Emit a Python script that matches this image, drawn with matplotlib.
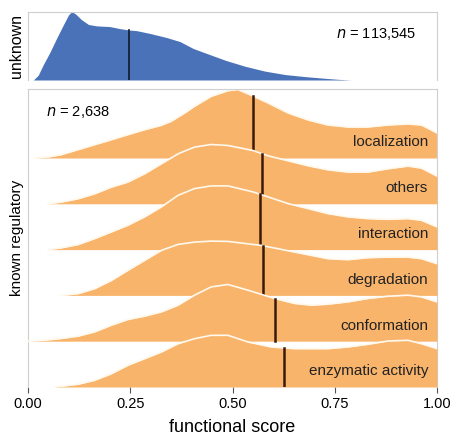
import matplotlib.pyplot as plt
import numpy as np

plt.rcParams['font.family'] = ['Liberation Sans', 'DejaVu Sans']

# unknown proteins: density (relative height)
unk_x = [0.0, 0.013, 0.025, 0.037, 0.054, 0.070, 0.086, 0.099, 0.107, 0.117, 0.131, 0.148,
         0.168, 0.2, 0.225, 0.247, 0.266, 0.298, 0.339, 0.372, 0.404, 0.445, 0.484,
         0.531, 0.579, 0.628, 0.677, 0.726, 0.758, 0.79, 1.0]
unk_y = [0.0, 0.0, 0.07, 0.22, 0.41, 0.61, 0.80, 0.95, 1.0, 0.96, 0.88, 0.81,
         0.79, 0.78, 0.75, 0.73, 0.72, 0.68, 0.62, 0.56, 0.46, 0.37, 0.285,
         0.2, 0.13, 0.08, 0.05, 0.025, 0.01, 0.0, 0.0]
unk_median = 0.247
unk_n = "113,545"

# known regulatory categories (top to bottom)
categories = ["localization", "others", "interaction", "degradation", "conformation",
              "enzymatic activity"]
medians = [0.55, 0.571, 0.568, 0.575, 0.605, 0.626]
known_n = "2,638"

# density heights (pixels above each baseline)
ridge_x = [
    [0.016, 0.049, 0.081, 0.122, 0.163, 0.204, 0.244, 0.285, 0.326, 0.35, 0.383, 0.407,
     0.448, 0.489, 0.513, 0.55, 0.587, 0.636, 0.685, 0.733, 0.782, 0.831, 0.88, 0.929,
     0.962, 0.986, 1.0],
    [0.049, 0.081, 0.122, 0.163, 0.204, 0.244, 0.285, 0.326, 0.367, 0.407, 0.448, 0.489,
     0.55, 0.587, 0.636, 0.685, 0.733, 0.782, 0.831, 0.88, 0.929, 0.962, 1.0],
    [0.049, 0.081, 0.122, 0.163, 0.204, 0.244, 0.285, 0.326, 0.367, 0.407, 0.448, 0.489,
     0.55, 0.587, 0.636, 0.685, 0.733, 0.782, 0.831, 0.88, 0.929, 0.962, 1.0],
    [0.081, 0.122, 0.163, 0.204, 0.244, 0.285, 0.326, 0.367, 0.407, 0.448, 0.489,
     0.57, 0.611, 0.652, 0.693, 0.733, 0.782, 0.831, 0.88, 0.929, 0.962, 1.0],
    [0.0, 0.041, 0.081, 0.122, 0.163, 0.204, 0.244, 0.285, 0.326, 0.367, 0.407, 0.448,
     0.489, 0.538, 0.603, 0.652, 0.693, 0.733, 0.782, 0.831, 0.88, 0.929, 0.962, 1.0],
    [0.065, 0.122, 0.163, 0.204, 0.244, 0.285, 0.326, 0.367, 0.407, 0.448, 0.489,
     0.538, 0.595, 0.652, 0.733, 0.782, 0.831, 0.88, 0.929, 0.962, 1.0],
]
ridge_h = [
    [0, 1, 3.3, 8.3, 13.3, 18.3, 23.3, 28.3, 32.7, 36.7, 45, 51.7,
     61.7, 67.3, 68.5, 62, 55, 45, 38, 33, 31, 31, 33, 34,
     33, 28, 25],
    [0, 1.7, 5, 10, 16.7, 21.7, 30, 40, 50, 56.7, 59.3, 58.3,
     53.3, 48, 43, 38, 34, 31.7, 31.7, 35, 37.7, 35.7, 27.7],
    [0, 1.7, 5, 11, 17.7, 24.3, 32.7, 42.7, 54.3, 61, 63.7, 63.7,
     57.7, 52.7, 46, 41, 36, 32.7, 31, 30.3, 31, 29.3, 22.7],
    [0, 1.7, 6.7, 15, 25, 35, 45, 51, 53.3, 54.3, 54,
     50, 46.7, 43.3, 40, 36.7, 35.7, 37.7, 38.3, 38.3, 36.7, 31.7],
    [0, 1, 2.7, 5, 9.3, 16, 21.7, 25, 29.3, 36, 46, 54.3,
     56.7, 51, 42.7, 37.7, 36, 37, 39.3, 42.7, 45, 46, 44.3, 39.3],
    [0, 2.7, 6.7, 13.3, 21.7, 28.3, 35, 43.3, 48.3, 51.7, 51.7,
     45, 40, 38.3, 38.3, 40, 42.7, 46, 46.7, 43.3, 38.3],
]

blue = '#4a72b8'
orange = '#f9b46c'
frame = '#cfcfcf'
spacing = 45.8

W, H = 454, 437
fig = plt.figure(figsize=(W / 100, H / 100), dpi=100)
ax1 = fig.add_axes([28 / W, 1 - 80 / H, 409 / W, 68.5 / H])
ax2 = fig.add_axes([28 / W, 1 - 387 / H, 409 / W, 298 / H])

# top panel
ax1.fill_between(unk_x, 0, unk_y, color=blue, lw=0)
mi = np.interp(unk_median, unk_x, unk_y)
ax1.plot([unk_median, unk_median], [0, mi], color='#101828', lw=1.2)
ax1.set_xlim(0, 1)
ax1.set_ylim(0, 1.0)
ax1.set_xticks([])
ax1.set_yticks([])
ax1.set_ylabel("unknown", fontsize=11.5, labelpad=3)
ax1.text(0.95, 0.67, "$n$ = " + unk_n, transform=ax1.transAxes, ha='right', va='center',
         fontsize=10.5)

# bottom panel: ridgelines, top to bottom so lower ones overlap
nr = len(categories)
for i, cat in enumerate(categories):
    base = nr - 1 - i
    xs = np.array(ridge_x[i])
    hs = np.array(ridge_h[i]) / spacing
    z = 2 + i * 3
    ax2.fill_between(xs, base, base + hs, color=orange, lw=0, zorder=z)
    ax2.plot(xs, base + hs, color='#fff8ec', lw=1.2, zorder=z)
    mh = np.interp(medians[i], xs, hs)
    ax2.plot([medians[i], medians[i]], [base, base + mh], color='#3a1a0a', lw=1.8,
             zorder=z + 1)
    ax2.text(0.978, base + 15.5 / spacing, cat, ha='right', va='center', fontsize=11,
             color='#222222', zorder=40)

ax2.text(0.044, 5 + 46 / spacing, "$n$ = " + known_n, ha='left', va='center',
         fontsize=10.5, zorder=40)
ax2.set_xlim(0, 1)
ax2.set_ylim(0, 298 / spacing)
ax2.set_yticks([])
ax2.set_xticks([0, 0.25, 0.5, 0.75, 1.0])
ax2.set_xticklabels(["0.00", "0.25", "0.50", "0.75", "1.00"], fontsize=10.5)
ax2.tick_params(axis='x', length=4, color='#555555', pad=3)
ax2.set_xlabel("functional score", fontsize=13, labelpad=6)
ax2.set_ylabel("known regulatory", fontsize=11, labelpad=3)

for ax in (ax1, ax2):
    for s in ax.spines.values():
        s.set_color(frame)
        s.set_linewidth(0.8)
    ax.spines['bottom'].set_visible(False)

fig.savefig("out.png", dpi=100)
